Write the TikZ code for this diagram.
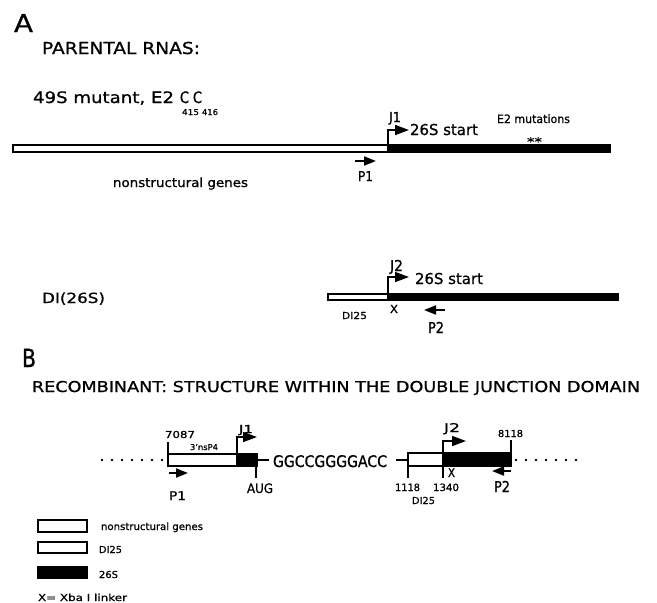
\documentclass[tikz,border=0pt]{standalone}
\usepackage{fontspec}
\usepackage{graphicx}
\setmainfont{DejaVu Sans}[UprightFeatures={FakeBold=0.8}]
\usetikzlibrary{arrows.meta}
\newcommand{\fw}[3]{\resizebox{#1pt}{\height}{\fontsize{#2}{#2}\selectfont #3}}
\tikzset{
  lbl/.style={inner sep=0pt, outer sep=0pt, anchor=base west},
  wbar/.style={draw=black, fill=white, line width=1.4pt},
  bbar/.style={draw=black, fill=black, line width=1.4pt},
  jarrow/.style={line width=1.6pt, -{Triangle[length=14pt,width=10pt]}},
  parrow/.style={line width=1.8pt, -{Triangle[length=12pt,width=9pt]}},
  tick/.style={line width=1.5pt},
  dotline/.style={line width=2.6pt, line cap=round, dash pattern=on 0pt off 10pt},
}
\begin{document}
\begin{tikzpicture}[x=1pt,y=-1pt]
\fill[white] (0,0) rectangle (657,603);
\useasboundingbox (0,0) rectangle (657,603);

% ---------- Panel A ----------
\node[lbl] (lA) at (14,32) {\fw{19}{24.7}{A}};
\node[lbl] (parental) at (42,54) {\fw{158}{16.5}{PARENTAL RNAS:}};
\node[lbl] (mut) at (33,103) {\fw{141}{15.8}{49S mutant, E2}};
\node[lbl] (c1) at (180,103) {\fw{9}{15.8}{C}};
\node[lbl] (c2) at (193,103) {\fw{9}{15.8}{C}};
\node[lbl] (s1) at (182,115) {\fw{17}{8}{415}};
\node[lbl] (s2) at (202,115) {\fw{16}{8}{416}};

% 49S bar
\draw[wbar] (13,145) rectangle (388,152);
\draw[bbar] (388,145) rectangle (610,152);
\coordinate (j1a) at (388,145);
\coordinate (j1b) at (388,130);
\coordinate (j1c) at (409,130);
\draw[jarrow] (j1a) -- (j1b) -- (j1c);
\node[lbl] (J1a) at (389,122) {\fw{12}{13.7}{J1}};
\node[lbl] (start1) at (410,135) {\fw{68}{15}{26S start}};
\node[lbl] (e2m) at (497,123) {\fw{73}{11.5}{E2 mutations}};
\node[lbl] (stars) at (527,146) {\fw{15}{12}{**}};
\coordinate (p1a) at (355,161);
\coordinate (p1b) at (376,161);
\draw[parrow] (p1a) -- (p1b);
\node[lbl] (P1a) at (358,181) {\fw{15}{13.5}{P1}};
\node[lbl] (nsg) at (113,187) {\fw{135}{12.5}{nonstructural genes}};

% DI(26S) bar
\node[lbl] (di26) at (42,303) {\fw{63}{14}{DI(26S)}};
\draw[wbar] (328,294) rectangle (388,300);
\draw[bbar] (388,294) rectangle (618,300);
\coordinate (j2a) at (388,294);
\coordinate (j2b) at (388,277);
\coordinate (j2c) at (409,277);
\draw[jarrow] (j2a) -- (j2b) -- (j2c);
\node[lbl] (J2a) at (390,271) {\fw{13}{15}{J2}};
\node[lbl] (start2) at (415,284) {\fw{68}{15}{26S start}};
\node[lbl] (di25a) at (342,319) {\fw{25}{9.6}{DI25}};
\node[lbl] (xa) at (390,313) {\fw{8}{11}{X}};
\coordinate (p2a) at (445,310);
\coordinate (p2b) at (424,310);
\draw[parrow] (p2a) -- (p2b);
\node[lbl] (P2a) at (428,333) {\fw{16}{15}{P2}};

% ---------- Panel B ----------
\node[lbl] (lB) at (22,367) {\fw{14}{25}{B}};
\node[lbl] (recomb) at (32,392) {\fw{608}{15}{RECOMBINANT: STRUCTURE WITHIN THE DOUBLE JUNCTION DOMAIN}};

\coordinate (dl1) at (102,460);
\coordinate (dl2) at (163,460);
\draw[dotline] (dl1) -- (dl2);
\draw[wbar] (168,454) rectangle (237,466);
\draw[bbar] (237,454) rectangle (257,466);
\coordinate (t7a) at (168,442);
\coordinate (t7b) at (168,466);
\draw[tick] (t7a) -- (t7b);
\node[lbl] (n7087) at (165,438) {\fw{30}{9.6}{7087}};
\node[lbl] (nsp4) at (190,450) {\fw{28}{8}{3'nsP4}};
\coordinate (bj1a) at (237,454);
\coordinate (bj1b) at (237,437);
\coordinate (bj1c) at (257,437);
\draw[jarrow] (bj1a) -- (bj1b) -- (bj1c);
\node[lbl] (J1b) at (239,433) {\fw{14}{11}{J1}};
\coordinate (l1a) at (257,460);
\coordinate (l1b) at (269,460);
\draw[tick] (l1a) -- (l1b);
\coordinate (auga) at (256,466);
\coordinate (augb) at (256,478);
\draw[tick] (auga) -- (augb);
\node[lbl] (aug) at (247,493) {\fw{26}{13}{AUG}};
\coordinate (bp1a) at (169,473);
\coordinate (bp1b) at (188,473);
\draw[parrow] (bp1a) -- (bp1b);
\node[lbl] (P1b) at (169,500) {\fw{17}{12}{P1}};
\node[lbl] (seq) at (273,467) {\fw{114}{16}{GGCCGGGGACC}};

\coordinate (l2a) at (396,460);
\coordinate (l2b) at (408,460);
\draw[tick] (l2a) -- (l2b);
\draw[wbar] (408,453) rectangle (443,466);
\draw[bbar] (443,453) rectangle (511,466);
\coordinate (t11a) at (408,453);
\coordinate (t11b) at (408,478);
\draw[tick] (t11a) -- (t11b);
\coordinate (t13a) at (443,466);
\coordinate (t13b) at (443,478);
\draw[tick] (t13a) -- (t13b);
\coordinate (t81a) at (511,440);
\coordinate (t81b) at (511,453);
\draw[tick] (t81a) -- (t81b);
\coordinate (bj2a) at (443,453);
\coordinate (bj2b) at (443,441);
\coordinate (bj2c) at (466,441);
\draw[jarrow] (bj2a) -- (bj2b) -- (bj2c);
\node[lbl] (J2b) at (444,432) {\fw{16}{12}{J2}};
\node[lbl] (n8118) at (498,437) {\fw{25}{9.6}{8118}};
\node[lbl] (xb) at (448,477) {\fw{7}{12}{X}};
\node[lbl] (n1118) at (395,491) {\fw{25}{10}{1118}};
\node[lbl] (n1340) at (433,491) {\fw{26}{10}{1340}};
\node[lbl] (di25b) at (412,504) {\fw{23}{9.6}{DI25}};
\coordinate (bp2a) at (511,471);
\coordinate (bp2b) at (492,471);
\draw[parrow] (bp2a) -- (bp2b);
\node[lbl] (P2b) at (494,492) {\fw{16}{15}{P2}};
\coordinate (dr1) at (516,460);
\coordinate (dr2) at (577,460);
\draw[dotline] (dr1) -- (dr2);

% ---------- Legend ----------
\draw[wbar] (38,520) rectangle (87,532);
\node[lbl] (leg1) at (101,530) {\fw{102}{10}{nonstructural genes}};
\draw[wbar] (38,542) rectangle (87,553);
\node[lbl] (leg2) at (99,553) {\fw{23}{9.6}{DI25}};
\draw[bbar] (38,567) rectangle (87,578);
\node[lbl] (leg3) at (99,578) {\fw{19}{9.6}{26S}};
\node[lbl] (leg4) at (38,601) {\fw{89}{9.6}{X= Xba I linker}};
\end{tikzpicture}
\end{document}
